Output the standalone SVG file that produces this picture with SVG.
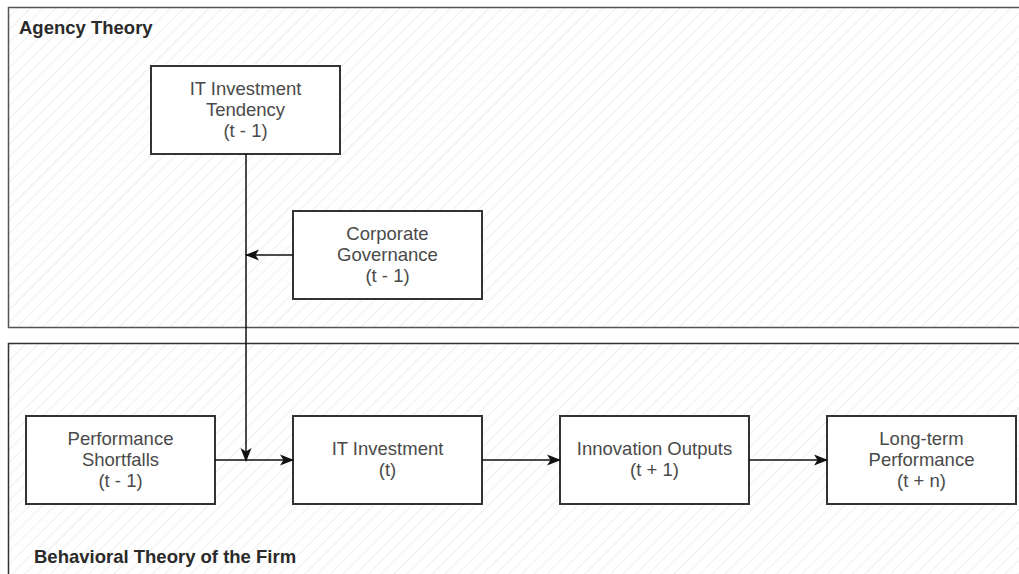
<svg xmlns="http://www.w3.org/2000/svg" width="1019" height="574" viewBox="0 0 1019 574">
  <defs>
    <pattern id="hatch" width="9" height="9" patternUnits="userSpaceOnUse" patternTransform="rotate(45)">
      <rect width="9" height="9" fill="#ffffff"/>
      <line x1="0" y1="0" x2="0" y2="9" stroke="#efefef" stroke-width="2"/>
    </pattern>
    <marker id="arrow" viewBox="0 0 14 12" refX="13" refY="6" markerWidth="14" markerHeight="12" markerUnits="userSpaceOnUse" orient="auto">
      <path d="M0,0.5 L14,6 L0,11.5 L3.5,6 Z" fill="#111"/>
    </marker>
  </defs>
  <style>
    .container { fill: url(#hatch); stroke: #333; stroke-width: 1.5; }
    .box { fill: #ffffff; stroke: #333; stroke-width: 2; }
    .label { font-family: "Liberation Sans", Arial, sans-serif; font-size: 18.5px; fill: #4a4a4a; text-anchor: middle; }
    .title { font-family: "Liberation Sans", Arial, sans-serif; font-size: 18.5px; font-weight: bold; fill: #2a2a2a; }
    .edge { fill: none; stroke: #111; stroke-width: 1.5; marker-end: url(#arrow); }
  </style>
  <rect width="1019" height="574" fill="#ffffff"/>

  <!-- swimlane containers -->
  <g id="agency-theory">
    <rect class="container" x="8.5" y="7.5" width="1020" height="320" style="stroke:#555"/>
    <text class="title" x="19" y="34">Agency Theory</text>
  </g>
  <g id="behavioral-theory">
    <rect class="container" x="8.5" y="343.5" width="1020" height="240"/>
    <text class="title" x="34" y="563">Behavioral Theory of the Firm</text>
  </g>

  <!-- nodes -->
  <g id="it-investment-tendency">
    <rect class="box" x="151" y="66" width="189" height="88"/>
    <text class="label" x="245.5" y="95">IT Investment</text>
    <text class="label" x="245.5" y="116">Tendency</text>
    <text class="label" x="245.5" y="137">(t - 1)</text>
  </g>
  <g id="corporate-governance">
    <rect class="box" x="293" y="211" width="189" height="88"/>
    <text class="label" x="387.5" y="240">Corporate</text>
    <text class="label" x="387.5" y="261">Governance</text>
    <text class="label" x="387.5" y="282">(t - 1)</text>
  </g>
  <g id="performance-shortfalls">
    <rect class="box" x="26" y="416" width="189" height="88"/>
    <text class="label" x="120.5" y="445">Performance</text>
    <text class="label" x="120.5" y="466">Shortfalls</text>
    <text class="label" x="120.5" y="487">(t - 1)</text>
  </g>
  <g id="it-investment">
    <rect class="box" x="293" y="416" width="189" height="88"/>
    <text class="label" x="387.5" y="455">IT Investment</text>
    <text class="label" x="387.5" y="476">(t)</text>
  </g>
  <g id="innovation-outputs">
    <rect class="box" x="560" y="416" width="189" height="88"/>
    <text class="label" x="654.5" y="455">Innovation Outputs</text>
    <text class="label" x="654.5" y="476">(t + 1)</text>
  </g>
  <g id="long-term-performance">
    <rect class="box" x="827" y="416" width="189" height="88"/>
    <text class="label" x="921.5" y="445">Long-term</text>
    <text class="label" x="921.5" y="466">Performance</text>
    <text class="label" x="921.5" y="487">(t + n)</text>
  </g>

  <!-- connectors -->
  <g id="connectors">
    <path class="edge" d="M246,154 L246,461"/>
    <path class="edge" d="M293,255 L246,255"/>
    <path class="edge" d="M215,460 L293,460"/>
    <path class="edge" d="M482,460 L560,460"/>
    <path class="edge" d="M749,460 L827,460"/>
  </g>
</svg>
